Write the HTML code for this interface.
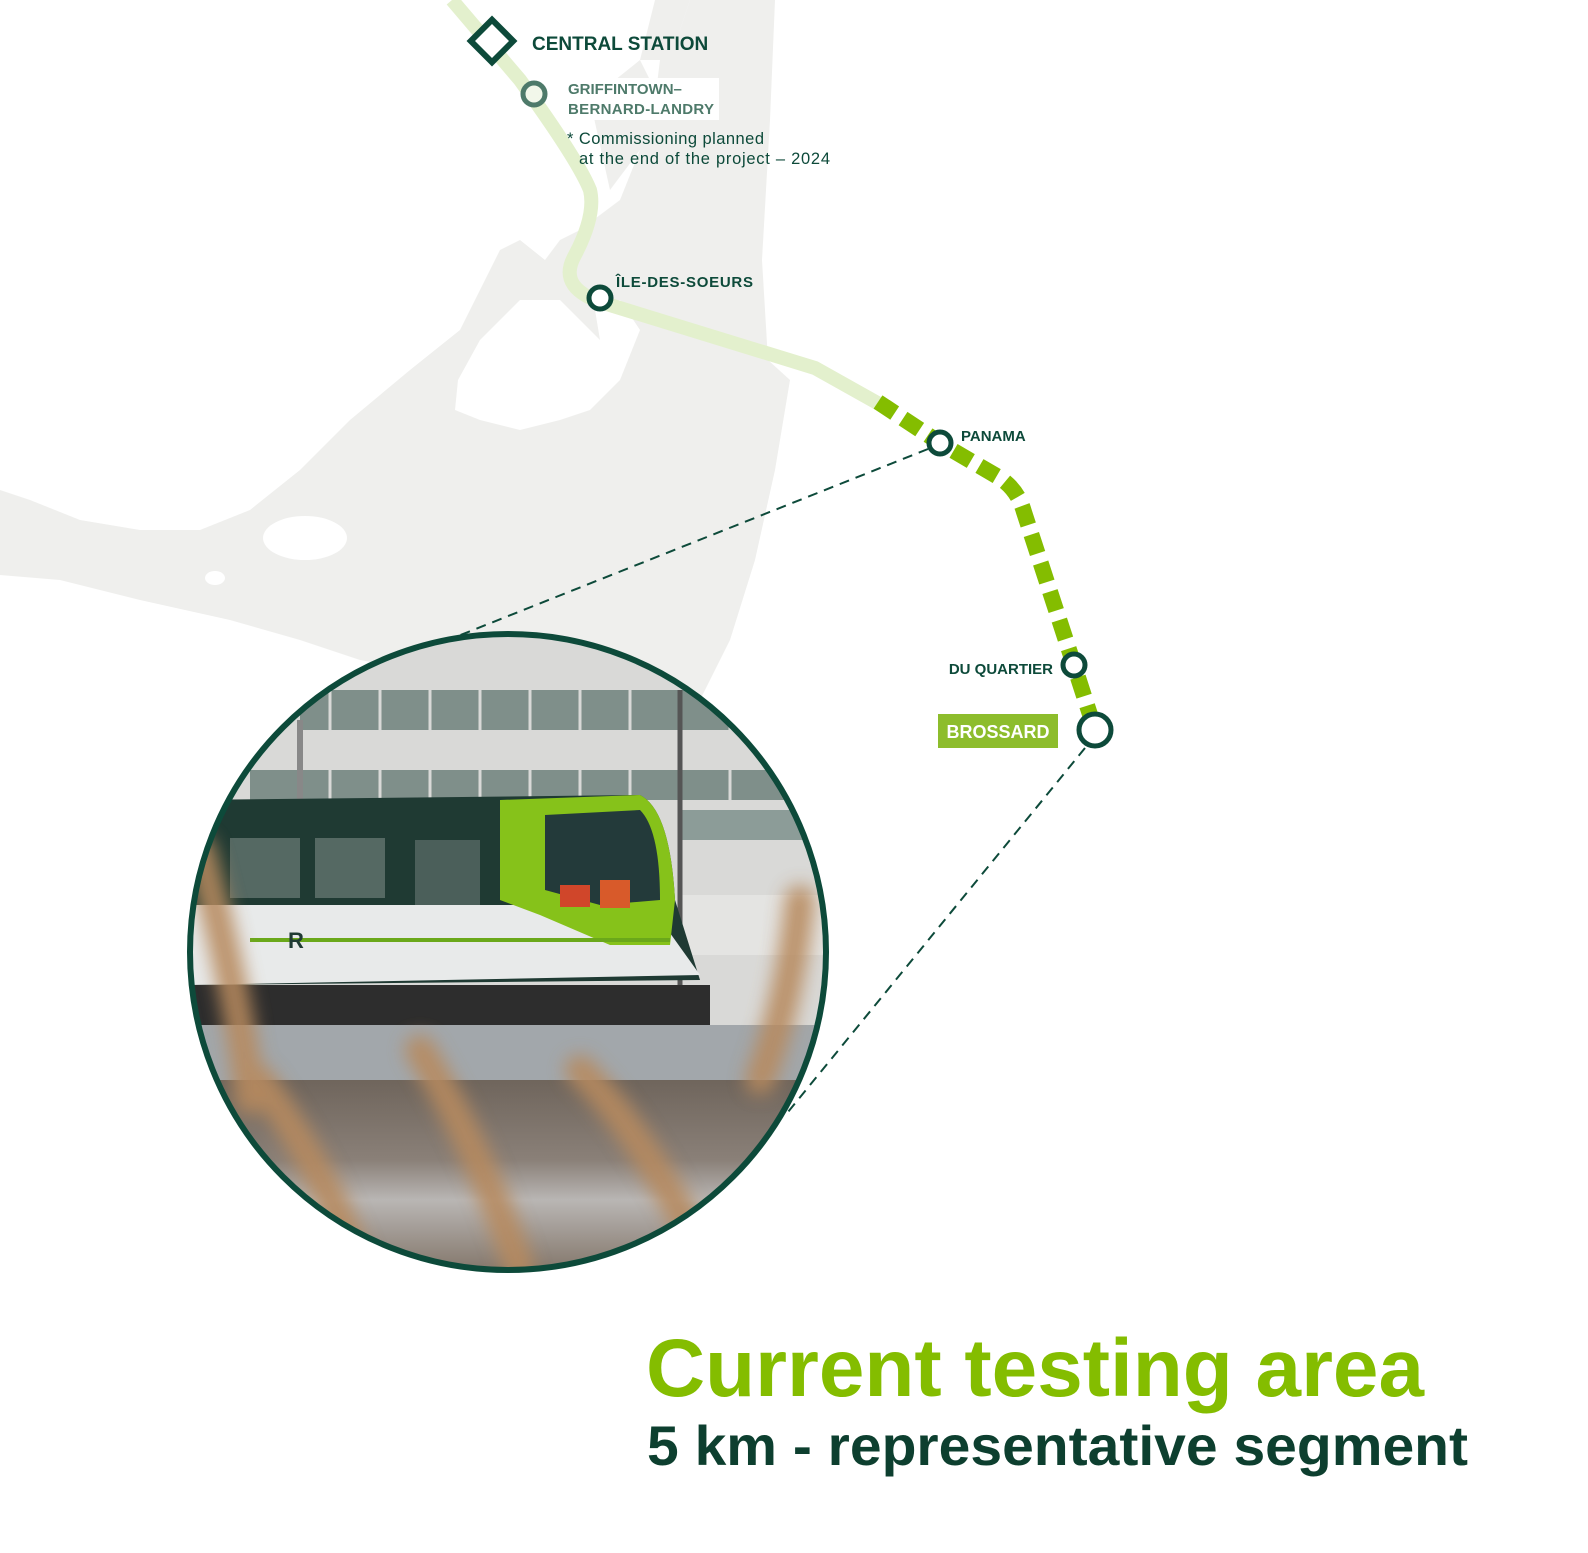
<!DOCTYPE html>
<html><head><meta charset="utf-8"><style>
html,body{margin:0;padding:0;background:#fff}
svg{display:block}
text{font-family:"Liberation Sans",sans-serif}
</style></head><body>
<svg width="1588" height="1553" viewBox="0 0 1588 1553" xmlns="http://www.w3.org/2000/svg">
<defs>
<clipPath id="cc"><circle cx="508" cy="952" r="318"/></clipPath>
<filter id="bl" x="-50%" y="-50%" width="200%" height="200%"><feGaussianBlur stdDeviation="9"/></filter>
<linearGradient id="gr" x1="0" y1="0" x2="0" y2="1"><stop offset="0" stop-color="#6f655c"/><stop offset="0.4" stop-color="#8a8078"/><stop offset="0.6" stop-color="#b9b6b4"/><stop offset="1" stop-color="#7d6f62"/></linearGradient>
</defs>
<g fill="#efefed">
<path d="M690 0 L775 0 L770 120 L762 260 L768 360 L790 380 L775 470 L755 560 L730 640 L700 700 L640 700 L560 690 L470 680 L360 660 L300 640 L230 620 L140 600 L60 580 L0 575 L0 490 L30 500 L80 520 L140 530 L200 530 L250 510 L300 470 L350 420 L410 370 L460 330 L480 290 L500 250 L520 240 L545 260 L560 240 L580 230 L600 215 L620 200 L640 150 L655 100 L660 60 L680 30 Z"/>
<path d="M655 0 L690 0 L670 60 L640 60 Z"/>
<path d="M590 100 L640 60 L660 100 L640 150 L610 190 Z"/>
</g>
<g fill="#fff">
<path d="M600 340 L595 310 L620 300 L640 330 L620 380 L590 410 L560 420 L520 430 L480 420 L455 410 L458 380 L480 340 L520 300 L560 300 Z"/>
<ellipse cx="305" cy="538" rx="42" ry="22"/>
<ellipse cx="215" cy="578" rx="10" ry="7"/>
</g>
<path d="M452 0 L520 80 Q578 160 590 190 Q596 215 575 255 Q555 290 610 305 L815 368 L890 410" fill="none" stroke="#e3f0cd" stroke-width="14"/>
<path d="M878 402 L940 443 L1000 478 Q1018 490 1024 512 L1074 665 L1095 730" fill="none" stroke="#84bd00" stroke-width="16" stroke-dasharray="20 10"/>
<line x1="928" y1="449" x2="448" y2="640" stroke="#0d4a3a" stroke-width="2" stroke-dasharray="10 7"/>
<line x1="1085" y1="748" x2="788" y2="1112" stroke="#0d4a3a" stroke-width="2" stroke-dasharray="10 7"/>
<rect x="477" y="26" width="30" height="30" transform="rotate(45 492 41)" fill="#fff" stroke="#0d4a3a" stroke-width="6"/>
<circle cx="534" cy="94" r="11" fill="#f2f7ea" stroke="#4e7a6a" stroke-width="5"/>
<circle cx="600" cy="298" r="11" fill="#fff" stroke="#0d4a3a" stroke-width="5"/>
<circle cx="940" cy="443" r="11" fill="#fff" stroke="#0d4a3a" stroke-width="5"/>
<circle cx="1074" cy="665" r="11" fill="#fff" stroke="#0d4a3a" stroke-width="5"/>
<circle cx="1095" cy="730" r="16" fill="#fff" stroke="#0d4a3a" stroke-width="5"/>
<text x="532" y="50" font-size="19" font-weight="bold" fill="#0d4a3a">CENTRAL STATION</text>
<rect x="563" y="78" width="156" height="42" fill="#fff"/>
<text x="568" y="94" font-size="15" font-weight="bold" fill="#4e7a6a">GRIFFINTOWN–</text>
<text x="568" y="114" font-size="15" font-weight="bold" fill="#4e7a6a" textLength="146">BERNARD-LANDRY</text>
<text x="567" y="144" font-size="16.5" fill="#0d4a3a" textLength="197">* Commissioning planned</text>
<text x="579" y="164" font-size="16.5" fill="#0d4a3a" textLength="251">at the end of the project – 2024</text>
<text x="616" y="287" font-size="15" font-weight="bold" fill="#0d4a3a" textLength="137">ÎLE-DES-SOEURS</text>
<text x="961" y="441" font-size="15" font-weight="bold" fill="#0d4a3a">PANAMA</text>
<text x="1053" y="674" font-size="15" font-weight="bold" fill="#0d4a3a" text-anchor="end">DU QUARTIER</text>
<rect x="938" y="714" width="120" height="34" fill="#8dbd2c"/>
<text x="998" y="738" font-size="18" font-weight="bold" fill="#fff" text-anchor="middle">BROSSARD</text>
<g clip-path="url(#cc)">
<rect x="180" y="620" width="660" height="660" fill="#d9d9d7"/>
<g fill="#7f8f8a">
<rect x="300" y="690" width="460" height="40"/>
<rect x="250" y="770" width="540" height="30"/>
</g>
<g stroke="#d9d9d7" stroke-width="3">
<line x1="330" y1="690" x2="330" y2="800"/><line x1="380" y1="690" x2="380" y2="800"/><line x1="430" y1="690" x2="430" y2="800"/><line x1="480" y1="690" x2="480" y2="800"/><line x1="530" y1="690" x2="530" y2="800"/><line x1="580" y1="690" x2="580" y2="800"/><line x1="630" y1="690" x2="630" y2="800"/><line x1="680" y1="690" x2="680" y2="800"/><line x1="730" y1="690" x2="730" y2="800"/>
</g>
<rect x="680" y="810" width="160" height="30" fill="#8c9c98"/>
<rect x="680" y="895" width="160" height="60" fill="#e4e4e2"/>
<line x1="680" y1="690" x2="680" y2="1020" stroke="#555" stroke-width="5"/>
<line x1="300" y1="720" x2="300" y2="800" stroke="#888" stroke-width="6"/>
<path d="M190 800 L640 795 Q670 810 675 900 L700 980 L190 985 Z" fill="#1f3a33"/>
<path d="M190 905 L650 905 L700 975 L190 985 Z" fill="#e8eaea"/>
<path d="M500 800 L640 795 Q670 810 675 900 L670 945 L610 945 L540 915 L500 900 Z" fill="#86c21a"/>
<path d="M545 815 L640 810 Q660 830 660 900 L600 905 L545 890 Z" fill="#233a3a"/>
<rect x="230" y="838" width="70" height="60" fill="#556963"/>
<rect x="315" y="838" width="70" height="60" fill="#556963"/>
<rect x="415" y="840" width="65" height="65" fill="#4b5f5a"/>
<rect x="250" y="938" width="420" height="4" fill="#6aa81a"/>
<text x="288" y="948" font-size="22" font-weight="bold" fill="#1f3a33">R</text>
<rect x="190" y="985" width="520" height="45" fill="#2d2d2d"/>
<rect x="560" y="885" width="30" height="22" fill="#d0462a"/>
<rect x="600" y="880" width="30" height="28" fill="#d85a2a"/>
<rect x="180" y="1025" width="660" height="60" fill="#a2a7ab"/>
<rect x="180" y="1080" width="660" height="200" fill="url(#gr)"/>
<g filter="url(#bl)" stroke="#b78a5e" stroke-width="30" fill="none" stroke-linecap="round" opacity="0.9">
<path d="M200 850 Q240 1000 250 1100"/>
<path d="M260 1080 Q330 1180 360 1270"/>
<path d="M420 1050 Q480 1150 520 1270"/>
<path d="M580 1070 Q640 1130 700 1250"/>
<path d="M800 900 Q790 1000 760 1080"/>
</g>
</g>
<circle cx="508" cy="952" r="318" fill="none" stroke="#0d4a3a" stroke-width="6"/>
<text x="646" y="1396" font-size="82" font-weight="bold" fill="#84bd00" textLength="778" lengthAdjust="spacingAndGlyphs">Current testing area</text>
<text x="647" y="1465" font-size="56" font-weight="bold" fill="#0d3f2f" textLength="821" lengthAdjust="spacingAndGlyphs">5 km - representative segment</text>
</svg>
</body></html>
